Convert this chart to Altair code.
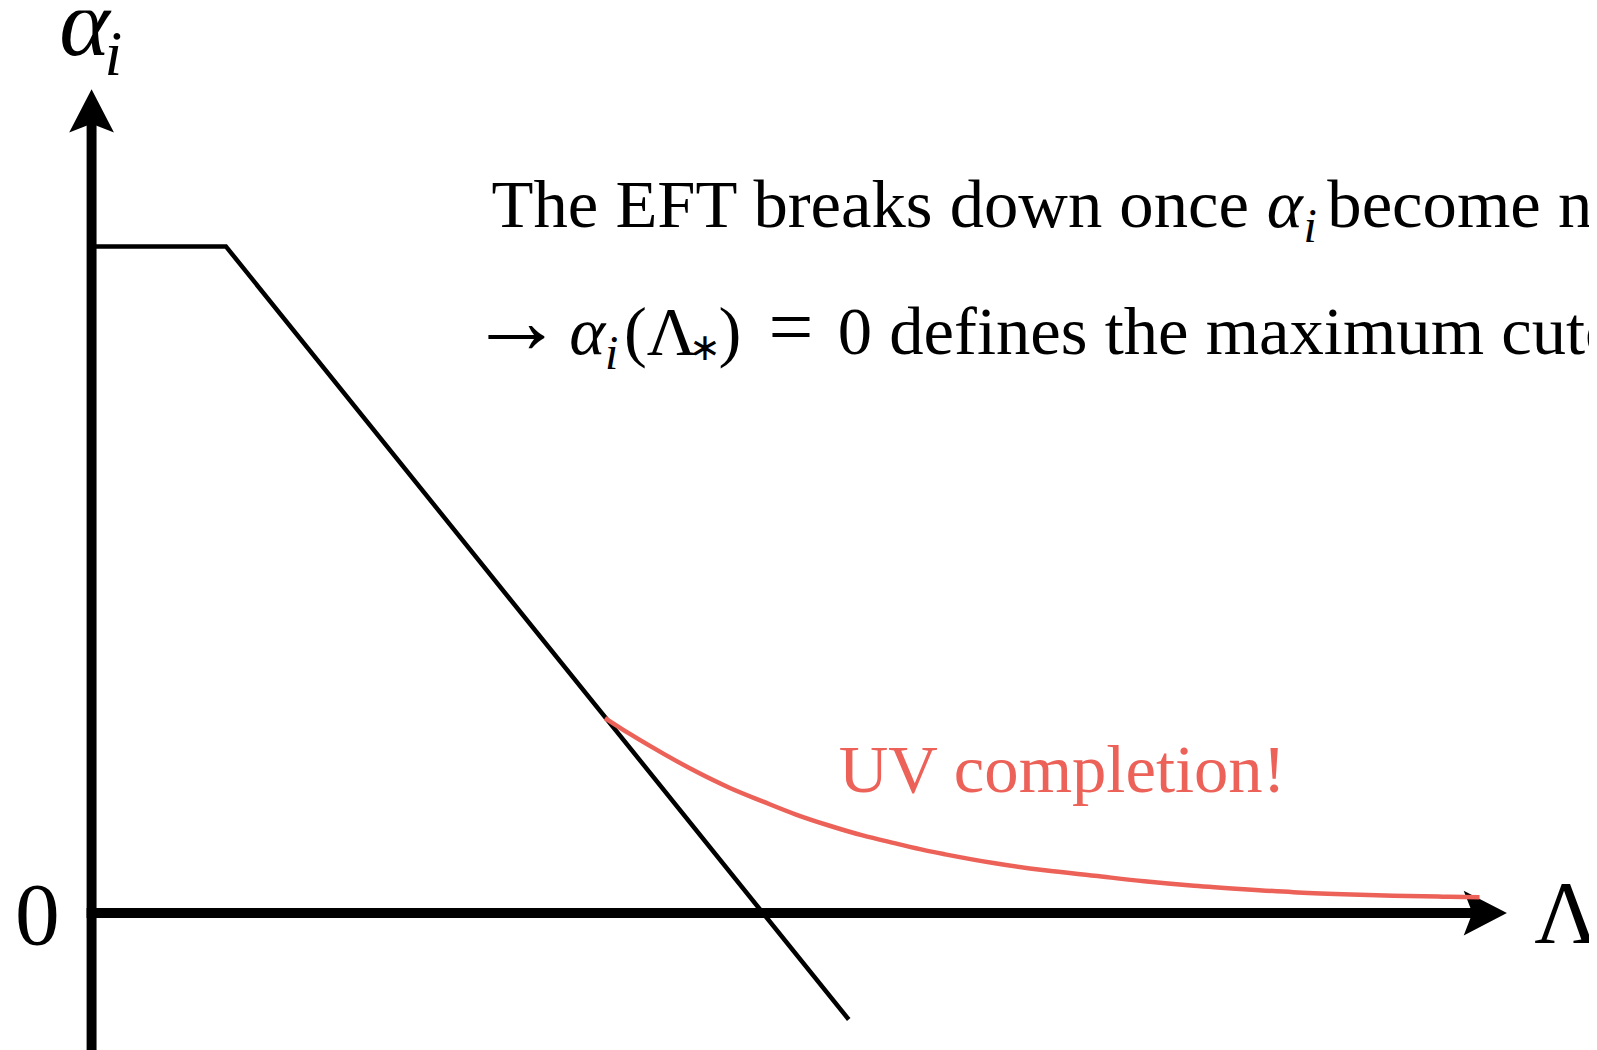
import altair as alt
import pandas as pd

# ---------------- data (arbitrary units) ----------------
# EFT running coupling: plateau then linear decrease
eft_x = [0.0, 1.35, 7.61]
eft_y = [6.70, 6.70, -1.07]

# UV completion curve
uv_x = [5.16, 5.41, 5.75, 6.08, 6.41, 6.75, 7.08, 7.41, 7.75, 8.08, 8.38,
        8.58, 9.08, 9.58, 10.08, 10.58, 11.08, 11.58, 12.08, 12.58, 13.08,
        13.58, 13.95]
uv_y = [1.96, 1.80, 1.60, 1.42, 1.26, 1.12, 0.99, 0.88, 0.78, 0.70, 0.63,
        0.59, 0.50, 0.43, 0.375, 0.32, 0.275, 0.24, 0.21, 0.19, 0.175,
        0.165, 0.16]

# axes (shafts and arrow heads)
vaxis_x = [0.0, 0.0]
vaxis_y = [-1.40, 7.95]
haxis_x = [-0.05, 13.95]
haxis_y = [0.0, 0.0]
arrow_x = [0.0, 14.0]
arrow_y = [8.055, 0.0]
arrow_angle = [0, 90]

X_DOMAIN = [-0.84, 15.05]
Y_DOMAIN = [-1.35, 9.07]

BLACK = "#000000"
RED = "#EC6158"
SERIF = "Liberation Serif"
BODY = 69
BIG = 90

xs = alt.Scale(domain=X_DOMAIN, nice=False, zero=False)
ys = alt.Scale(domain=Y_DOMAIN, nice=False, zero=False)


def line(xv, yv, color, width, interp="linear"):
    df = pd.DataFrame({"x": xv, "y": yv, "i": range(len(xv))})
    return alt.Chart(df).mark_line(
        color=color, strokeWidth=width, strokeCap="butt", strokeJoin="miter",
        interpolate=interp,
    ).encode(
        x=alt.X("x:Q", scale=xs, axis=None),
        y=alt.Y("y:Q", scale=ys, axis=None),
        order="i:Q",
    )


def label(txt, x, y, size, style="normal", align="left", color=BLACK, font=SERIF):
    df = pd.DataFrame({"x": [x], "y": [y], "t": [txt]})
    return alt.Chart(df).mark_text(
        font=font, fontSize=size, fontStyle=style, align=align,
        baseline="alphabetic", color=color, clip=True,
    ).encode(
        x=alt.X("x:Q", scale=xs, axis=None),
        y=alt.Y("y:Q", scale=ys, axis=None),
        text="t:N",
    )


ARROW_PATH = "M0,-1 L1,0.93 L0.2,0.62 L-0.2,0.62 L-1,0.93 Z"

arrows = alt.Chart(pd.DataFrame({"x": arrow_x, "y": arrow_y, "a": arrow_angle})).mark_point(
    shape=ARROW_PATH, filled=True, color=BLACK, size=2025, opacity=1, strokeWidth=0
).encode(
    x=alt.X("x:Q", scale=xs, axis=None),
    y=alt.Y("y:Q", scale=ys, axis=None),
    angle=alt.Angle("a:Q", scale=None),
)

layers = [
    line(vaxis_x, vaxis_y, BLACK, 10),
    line(haxis_x, haxis_y, BLACK, 10),
    arrows,
    line(eft_x, eft_y, BLACK, 4.5),
    line(uv_x, uv_y, RED, 4.5, "monotone"),
    # axis labels
    label("\u03b1", -0.07, 8.62, 97, "italic", "center"),
    label("i", 0.22, 8.42, 64, "italic", "center"),
    label("0", -0.545, -0.31, BIG, "normal", "center"),
    label("\u039b", 14.50, -0.29, BIG, "normal", "left"),
    # text line 1
    label("The EFT breaks down once", 4.02, 6.90, BODY),
    label("\u03b1", 11.81, 6.90, BODY, "italic"),
    label("i", 12.18, 6.74, 48, "italic"),
    label("become negative", 12.42, 6.90, BODY),
    # text line 2
    label("\u2192", 4.27, 5.63, 95, "normal", "center"),
    label("\u03b1", 4.80, 5.62, BODY, "italic"),
    label("i", 5.16, 5.47, 48, "italic"),
    label("(\u039b", 5.35, 5.62, BODY),
    label("\u2217", 6.17, 5.56, 38, "normal", "center"),
    label(")", 6.30, 5.62, BODY),
    label("=", 7.03, 5.62, 80, "normal", "center"),
    label("0 defines the maximum cutoff", 7.50, 5.62, BODY),
    # UV completion label
    label("UV completion!", 7.51, 1.22, BODY, "normal", "left", RED),
]

chart = alt.layer(*layers).properties(
    width=1589, height=1042,
    autosize=alt.AutoSizeParams(type="none"),
    padding=0,
    background="white",
).configure_view(strokeWidth=0, stroke=None)

chart.save("out.html", embed_options={"renderer": "svg", "actions": False})
